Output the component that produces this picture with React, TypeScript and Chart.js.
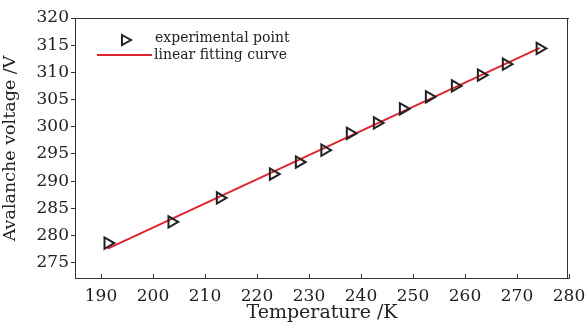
import React, { useEffect, useRef } from "react";
import { Chart, registerables } from "chart.js";

Chart.register(...registerables);

const temperatures = [191.3, 203.6, 212.9, 223.1, 228.1, 233.0, 237.9, 243.1, 248.1, 253.1, 258.1, 263.1, 267.9, 274.4];
const voltages = [278.6, 282.5, 286.9, 291.3, 293.5, 295.7, 298.8, 300.7, 303.3, 305.5, 307.5, 309.5, 311.5, 314.4];
const fitX = [191.3, 274.4];
const fitY = [277.6, 314.5];
const xTicks = [190, 200, 210, 220, 230, 240, 250, 260, 270, 280];
const yTicks = [275, 280, 285, 290, 295, 300, 305, 310, 315, 320];
const legendLabels = ["experimental point", "linear fitting curve"];
const xTitle = "Temperature /K";
const yTitle = "Avalanche voltage /V";

const FONT = "'DejaVu Serif', serif";
const AXIS_COLOR = "#333";
const RED = "#e0242f";

const framePlugin = {
  id: "frame",
  afterDraw(chart: any) {
    const { ctx, chartArea, scales } = chart;
    const { left, right, top, bottom } = chartArea;
    ctx.save();
    ctx.fillStyle = AXIS_COLOR;
    const l = Math.round(left), r = Math.round(right), t = Math.round(top), b = Math.round(bottom);
    ctx.fillRect(l, t, r - l, 1);
    ctx.fillRect(l, b - 1, r - l, 1);
    ctx.fillRect(l, t, 1, b - t);
    ctx.fillRect(r - 2, t, 1, b - t);
    // inward x ticks
    for (const v of xTicks) {
      const x = Math.round(scales.x.getPixelForValue(v));
      ctx.fillRect(x, b - 5, 1, 5);
    }
    // legend
    const mx = 126, my = 40;
    ctx.strokeStyle = "#222";
    ctx.lineWidth = 2;
    ctx.beginPath();
    ctx.moveTo(mx - 4, my - 5);
    ctx.lineTo(mx + 5, my);
    ctx.lineTo(mx - 4, my + 5);
    ctx.closePath();
    ctx.stroke();
    ctx.strokeStyle = RED;
    ctx.beginPath();
    ctx.moveTo(97, 55);
    ctx.lineTo(152, 55);
    ctx.stroke();
    ctx.fillStyle = "#222";
    ctx.font = "14px " + FONT;
    ctx.textBaseline = "middle";
    ctx.textAlign = "left";
    ctx.fillText(legendLabels[0], 155, 38);
    ctx.fillText(legendLabels[1], 154, 55);
    ctx.restore();
  },
};

export default function App() {
  const ref = useRef<HTMLCanvasElement>(null);
  useEffect(() => {
    const points = temperatures.map((t, i) => ({ x: t, y: voltages[i] }));
    const fit = fitX.map((t, i) => ({ x: t, y: fitY[i] }));
    const chart = new Chart(ref.current!, {
      type: "scatter",
      data: {
        datasets: [
          {
            label: legendLabels[1],
            data: fit,
            showLine: true,
            borderColor: RED,
            borderWidth: 2,
            pointRadius: 0,
            order: 2,
          },
          {
            label: legendLabels[0],
            data: points,
            pointStyle: "triangle",
            rotation: 90,
            pointRadius: 6.5,
            pointBorderWidth: 2,
            borderColor: "#222",
            backgroundColor: "rgba(0,0,0,0)",
            order: 1,
          },
        ],
      },
      options: {
        animation: false,
        responsive: true,
        maintainAspectRatio: false,
        layout: { padding: { top: 18, right: 18, left: 0, bottom: 0 } },
        plugins: { legend: { display: false }, tooltip: { enabled: false } },
        scales: {
          x: {
            type: "linear",
            min: 185,
            max: 280,
            afterBuildTicks: (s: any) => {
              s.ticks = xTicks.map((v) => ({ value: v }));
            },
            afterFit: (s: any) => {
              s.height = 45;
              s.paddingLeft = 0;
              s.paddingRight = 0;
            },
            grid: { display: false, drawTicks: false },
            border: { display: false },
            ticks: { color: "#222", font: { family: FONT, size: 17 }, padding: 7, maxRotation: 0 },
            title: { display: true, text: xTitle, color: "#222", font: { family: FONT, size: 19 }, padding: { top: 0, bottom: 0 } },
          },
          y: {
            type: "linear",
            min: 272,
            max: 320,
            afterBuildTicks: (s: any) => {
              s.ticks = yTicks.map((v) => ({ value: v }));
            },
            afterFit: (s: any) => {
              s.width = 75;
              s.paddingTop = 0;
              s.paddingBottom = 0;
            },
            grid: { display: true, drawOnChartArea: false, drawTicks: true, tickLength: 4, color: AXIS_COLOR },
            border: { display: false },
            ticks: { color: "#222", font: { family: FONT, size: 17 }, padding: 2 },
            title: { display: true, text: yTitle, color: "#222", font: { family: FONT, size: 17.5 }, padding: { top: 0, bottom: 0 } },
          },
        },
      },
      plugins: [framePlugin],
    } as any);
    return () => chart.destroy();
  }, []);
  return (
    <div style={{ position: "fixed", left: 0, top: 0, width: 587, height: 324, background: "#fff", overflow: "hidden" }}>
      <canvas ref={ref} />
    </div>
  );
}
